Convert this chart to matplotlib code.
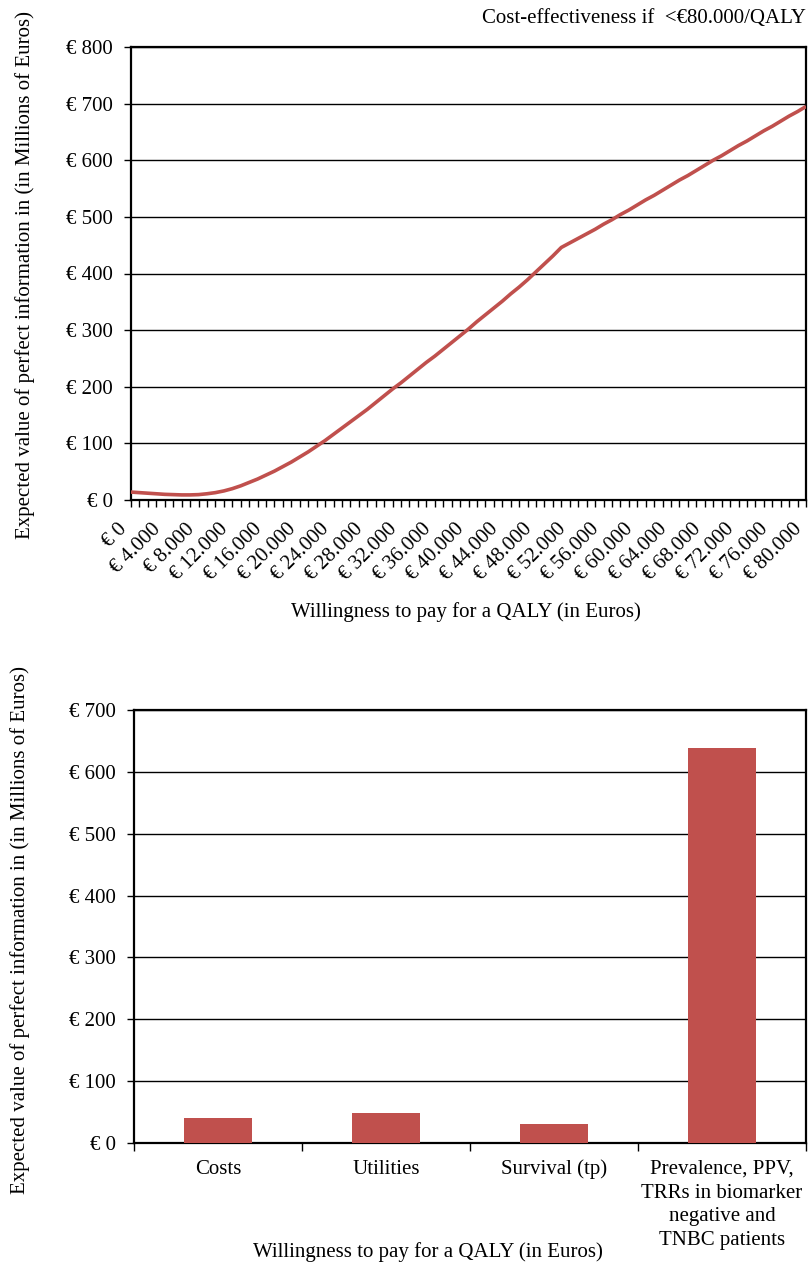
import matplotlib
matplotlib.use("Agg")
import matplotlib.pyplot as plt
import numpy as np

# Willingness to pay (thousands of euros) and EVPI (millions of euros)
wtp_k = list(range(0, 81))
evpi = [14, 13, 12, 11, 10, 9.5, 9, 9, 9.5, 11, 13, 16, 20, 25, 31, 37, 44, 51, 59, 67,
        76, 85, 95, 105, 116, 127, 138, 149, 160, 172, 184, 196, 207, 219, 231, 243, 254,
        266, 278, 290, 302, 315, 327, 339, 351, 364, 376, 389, 403, 417, 431, 446, 454,
        462, 470, 478, 487, 495, 504, 512, 521, 530, 538, 547, 556, 565, 573, 582, 591,
        600, 608, 617, 626, 634, 643, 652, 660, 669, 678, 686, 695]

# Partial EVPI per parameter group
groups = ["Costs", "Utilities", "Survival (tp)",
          "Prevalence, PPV,\nTRRs in biomarker\nnegative and\nTNBC patients"]
group_evpi = [40, 48, 30, 638]

RED = "#C0504D"
FS = 15
plt.rcParams["font.family"] = ["Liberation Serif", "DejaVu Serif"]
plt.rcParams["font.size"] = FS

W, H = 809, 1264
fig = plt.figure(figsize=(W / 100, H / 100), dpi=100)


def box(l, t, r, b):
    return [l / W, 1 - b / H, (r - l) / W, (b - t) / H]


def euro(v):
    s = f"{int(v):,}".replace(",", ".")
    return f"€ {s}"


YLABEL = "Expected value of perfect information in (in Millions of Euros)"
XLABEL = "Willingness to pay for a QALY (in Euros)"

# ---- Top: EVPI curve ----
ax1 = fig.add_axes(box(131, 47, 806, 500))
wtp = np.array(wtp_k) * 1000
ax1.plot(wtp, evpi, color=RED, lw=2.6, solid_capstyle="butt", zorder=3)
ax1.set_xlim(0, 80000)
ax1.set_ylim(0, 800)
yt = np.arange(0, 801, 100)
ax1.set_yticks(yt)
ax1.set_yticklabels([euro(v) for v in yt])
xt = np.arange(0, 80001, 4000)
ax1.set_xticks(xt)
ax1.set_xticklabels([euro(v) for v in xt], rotation=45, ha="right", va="bottom",
                    rotation_mode="anchor")
ax1.set_xticks(np.arange(0, 80001, 1000), minor=True)
ax1.tick_params(axis="x", which="both", direction="out", length=5, width=1, color="black")
ax1.tick_params(axis="y", direction="out", length=5, width=1, pad=8)
ax1.tick_params(axis="x", which="major", pad=19)
ax1.grid(axis="y", color="black", lw=1)
ax1.set_axisbelow(True)
for s in ax1.spines.values():
    s.set_linewidth(1.6)
fig.text(466 / W, 1 - 612 / H, XLABEL, ha="center", va="center", fontsize=FS)
fig.text(25 / W, 1 - 275 / H, YLABEL, ha="center", va="center", rotation=90, fontsize=FS)
fig.text(806 / W, 1 - 18 / H, "Cost-effectiveness if  <€80.000/QALY",
         ha="right", va="center", fontsize=FS)

# ---- Bottom: partial EVPI bars ----
ax2 = fig.add_axes(box(134, 710, 806, 1143))
x = np.arange(len(groups))
ax2.bar(x, group_evpi, width=0.4, color=RED, zorder=3)
ax2.set_xlim(-0.5, len(groups) - 0.5)
ax2.set_ylim(0, 700)
yt2 = np.arange(0, 701, 100)
ax2.set_yticks(yt2)
ax2.set_yticklabels([euro(v) for v in yt2])
ax2.set_xticks(x)
ax2.set_xticklabels(groups, va="top", linespacing=1.35)
ax2.tick_params(axis="x", which="major", length=0, pad=12)
ax2.set_xticks(np.arange(-0.5, len(groups), 1.0), minor=True)
ax2.tick_params(axis="x", which="minor", direction="out", length=6, width=1)
ax2.tick_params(axis="y", direction="out", length=5, width=1, pad=8)
ax2.grid(axis="y", color="black", lw=1)
ax2.set_axisbelow(True)
for s in ax2.spines.values():
    s.set_linewidth(1.6)
fig.text(20 / W, 1 - 930 / H, YLABEL, ha="center", va="center", rotation=90, fontsize=FS)
fig.text(428 / W, 1 - 1252 / H, XLABEL, ha="center", va="center", fontsize=FS)

fig.savefig("out.png", dpi=100)
